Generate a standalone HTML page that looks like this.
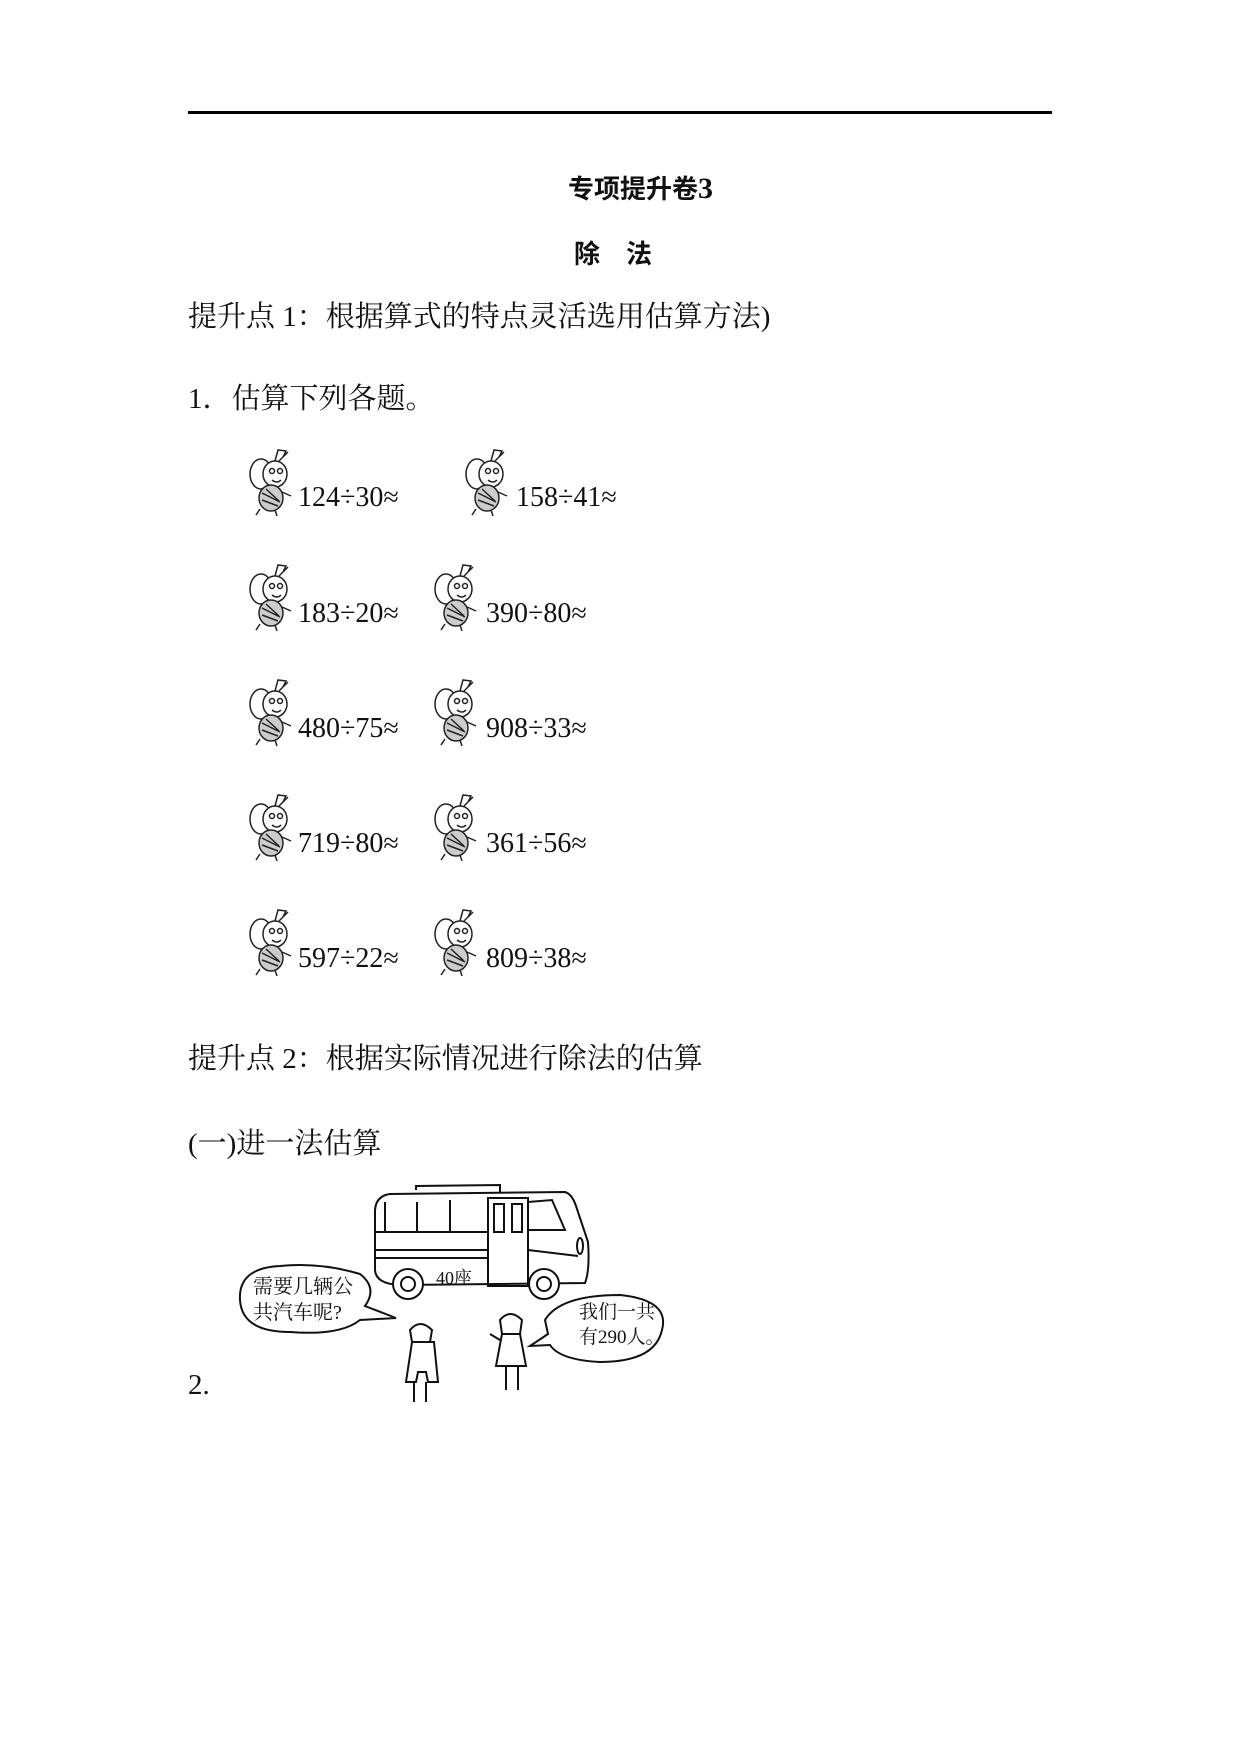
<!DOCTYPE html>
<html><head><meta charset="utf-8"><style>
body{margin:0;background:#fff;}
#p{position:relative;width:1241px;height:1754px;overflow:hidden;background:#fff;font-family:"Liberation Serif","Noto Serif CJK SC",serif;color:#111;}
.t{position:absolute;white-space:nowrap;line-height:1;}
.b{font-size:29px;}
.e{font-size:28px;}
.bee{position:absolute;width:60px;height:68px;}
</style></head><body><div id="p">
<div style="position:absolute;left:188px;top:111px;width:864px;height:3px;background:#000"></div>
<div class="t" style="left:0;width:1241px;text-align:center;top:174px;font-size:26px;font-weight:bold;font-family:'Noto Sans CJK SC',sans-serif;padding-left:40px;box-sizing:border-box">专项提升卷<span style="font-family:'Liberation Serif',serif;font-size:30px">3</span></div>
<div class="t" style="left:574px;top:240px;font-size:26px;font-weight:bold;font-family:'Noto Sans CJK SC',sans-serif">除　法</div>
<div class="t b" style="left:188px;top:303px">提升点 1：根据算式的特点灵活选用估算方法)</div>
<div class="t b" style="left:188px;top:385px">1．估算下列各题。</div>

<svg width="0" height="0" style="position:absolute"><defs>
<g id="bee" fill="none" stroke="#222" stroke-width="1.5">
<ellipse cx="18" cy="26" rx="11" ry="15"/>
<ellipse cx="32" cy="26" rx="12" ry="13" fill="#fff"/>
<circle cx="29" cy="23" r="2.5"/><circle cx="37" cy="23" r="2.5"/>
<path d="M29 32 q5 4 9 0"/>
<path d="M32 13 L35 2 L43 3 L40 9 M36 13 L45 4"/>
<ellipse cx="28" cy="50" rx="12" ry="13" fill="#ccc"/>
<path d="M19 45 l18 9 M19 52 l16 6 M23 41 l13 12"/>
<path d="M17 61 l-4 6 M32 62 l2 6 M39 44 l9 4"/>
</g></defs></svg>

<svg class="bee" style="left:243px;top:448px"><use href="#bee"/></svg>
<div class="t e" style="left:298px;top:484px">124÷30≈</div>
<svg class="bee" style="left:459px;top:448px"><use href="#bee"/></svg>
<div class="t e" style="left:516px;top:484px">158÷41≈</div>

<svg class="bee" style="left:243px;top:563px"><use href="#bee"/></svg>
<div class="t e" style="left:298px;top:600px">183÷20≈</div>
<svg class="bee" style="left:428px;top:563px"><use href="#bee"/></svg>
<div class="t e" style="left:486px;top:600px">390÷80≈</div>

<svg class="bee" style="left:243px;top:678px"><use href="#bee"/></svg>
<div class="t e" style="left:298px;top:715px">480÷75≈</div>
<svg class="bee" style="left:428px;top:678px"><use href="#bee"/></svg>
<div class="t e" style="left:486px;top:715px">908÷33≈</div>

<svg class="bee" style="left:243px;top:793px"><use href="#bee"/></svg>
<div class="t e" style="left:298px;top:830px">719÷80≈</div>
<svg class="bee" style="left:428px;top:793px"><use href="#bee"/></svg>
<div class="t e" style="left:486px;top:830px">361÷56≈</div>

<svg class="bee" style="left:243px;top:908px"><use href="#bee"/></svg>
<div class="t e" style="left:298px;top:945px">597÷22≈</div>
<svg class="bee" style="left:428px;top:908px"><use href="#bee"/></svg>
<div class="t e" style="left:486px;top:945px">809÷38≈</div>

<div class="t b" style="left:188px;top:1045px">提升点 2：根据实际情况进行除法的估算</div>
<div class="t b" style="left:188px;top:1130px">(一)进一法估算</div>

<svg style="position:absolute;left:200px;top:1150px" width="500" height="260" fill="none" stroke="#111" stroke-width="2">
<path d="M216 40 L216 36 L300 35 L300 42"/>
<path d="M175 60 Q176 46 190 44 L365 42 Q372 44 376 56 L388 92 Q390 120 385 133 L200 135 Q176 134 175 120 Z"/>
<path d="M175 82 L288 82 M175 100 L288 100 M175 108 L288 108 M328 100 L378 106"/>
<path d="M185 52 L185 82 M217 52 L217 82 M250 50 L250 82"/>
<rect x="288" y="48" width="40" height="88"/>
<rect x="294" y="54" width="10" height="28"/><rect x="312" y="54" width="10" height="28"/>
<path d="M328 52 L352 50 L365 80 L328 80"/>
<ellipse cx="380" cy="96" rx="3" ry="8"/>
<circle cx="208" cy="134" r="15" fill="#fff"/><circle cx="208" cy="134" r="7"/>
<circle cx="344" cy="134" r="15" fill="#fff"/><circle cx="344" cy="134" r="7"/>
<path d="M40 150 Q38 118 80 116 Q120 112 160 124 Q178 138 165 156 L196 168 L160 170 Q140 186 90 182 Q42 182 40 150 Z"/>
<path d="M345 170 Q360 145 420 145 Q470 150 462 180 Q455 212 400 212 Q360 210 350 195 L330 196 L348 184 Z"/>
<path d="M210 180 q10 -12 22 0 l-2 12 l-18 0 z M212 192 l-6 40 l10 0 l2 -10 l8 0 l2 10 l10 0 l-4 -40 z M214 232 l0 20 M226 232 l0 20"/>
<path d="M300 170 q10 -12 22 0 l-2 14 l-18 0 z M302 184 l-6 32 l30 0 l-6 -32 z M306 216 l0 24 M318 216 l0 24 M300 190 l-10 -6"/>
</svg>
<div class="t" style="left:253px;top:1274px;font-size:20px;line-height:26px;font-family:'Liberation Serif','Noto Serif CJK SC',serif">需要几辆公<br>共汽车呢?</div>
<div class="t" style="left:579px;top:1300px;font-size:19px;line-height:25px">我们一共<br>有290人。</div>
<div class="t" style="left:436px;top:1269px;font-size:18px">40座</div>
<div class="t b" style="left:188px;top:1371px">2.</div>
</div></body></html>
